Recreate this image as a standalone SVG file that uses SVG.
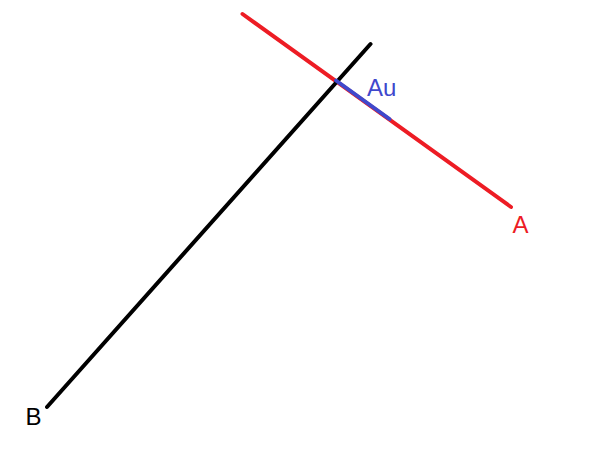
<svg xmlns="http://www.w3.org/2000/svg" width="590" height="463" viewBox="0 0 590 463">
<style>
.ln{stroke-width:4;stroke-linecap:round;fill:none}
.t{font-family:"Liberation Sans",Arial,sans-serif;font-size:24px}
</style>
<rect width="590" height="463" fill="#fff"/>
<g id="connectors">
<line id="lineA" class="ln" x1="242.5" y1="14" x2="511" y2="207" stroke="#ED1C24"/>
<line id="lineB" class="ln" x1="47" y1="407" x2="370.5" y2="44" stroke="#000"/>
<line id="Au-seg" class="ln" x1="336" y1="80.5" x2="389.5" y2="119" stroke="#3F48CC"/>
</g>
<g id="label-Au"><text class="t" x="367" y="95.5" fill="#3F48CC">Au</text></g>
<g id="label-A"><text class="t" x="512.5" y="233" fill="#ED1C24">A</text></g>
<g id="label-B"><text class="t" x="25.5" y="425" fill="#000">B</text></g>
</svg>
